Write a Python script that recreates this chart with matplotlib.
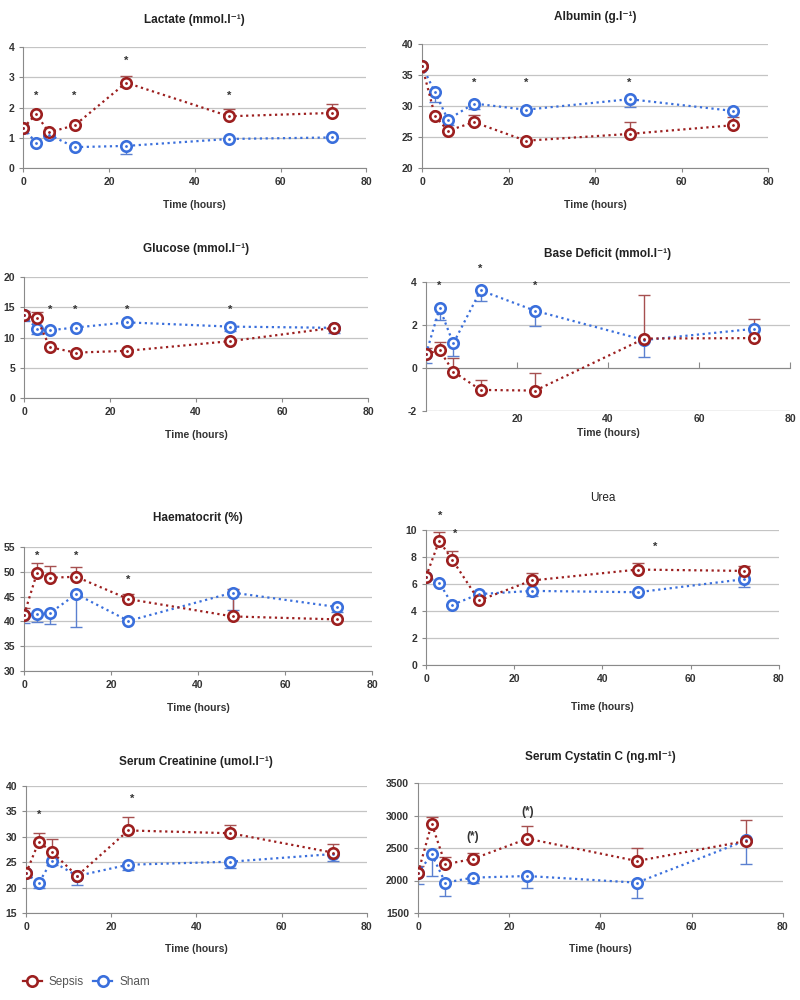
import matplotlib
matplotlib.use("Agg")
import matplotlib.pyplot as plt
import numpy as np

plt.rcParams["font.family"] = ["Liberation Sans", "DejaVu Sans"]
plt.rcParams["axes.unicode_minus"] = False

hours = [0, 3, 6, 12, 24, 48, 72]

# Lactate
lac_sep = [1.32, 1.78, 1.18, 1.41, 2.82, 1.71, 1.82]
lac_sep_up = [0, 0, 0, 0, 3.04, 1.95, 2.12]
lac_sham = [1.32, 0.84, 1.10, 0.69, 0.73, 0.96, 1.01]
lac_sham_dn = [1.17, 0, 0, 0, 0.47, 0, 0]

# Albumin
alb_sep = [36.5, 28.4, 26.0, 27.4, 24.4, 25.5, 26.9]
alb_sep_up = [0, 0, 0, 28.6, 0, 27.4, 28.2]
alb_sham = [36.5, 32.2, 27.8, 30.4, 29.4, 31.1, 29.2]
alb_sham_dn = [0, 30.6, 27.0, 29.5, 0, 29.8, 0]

# Glucose
glu_sep = [13.7, 13.15, 8.4, 7.5, 7.8, 9.4, 11.6]
glu_sep_up = [14.4, 14.2, 0, 0, 0, 0, 0]
glu_sham = [13.7, 11.45, 11.2, 11.65, 12.5, 11.8, 11.6]
glu_sham_dn = [12.8, 10.5, 0, 0, 0, 11.1, 10.8]

# Base deficit
bd_sep = [0.65, 0.83, -0.17, -1.02, -1.05, 1.37, 1.39]
bd_sep_up = [0.94, 1.19, 0.45, -0.56, -0.25, 3.38, 2.27]
bd_sham = [0.65, 2.79, 1.14, 3.61, 2.66, 1.30, 1.82]
bd_sham_dn = [0.24, 2.22, 0.55, 3.10, 1.96, 0.52, 0]

# Haematocrit
hct_sep = [41.3, 49.8, 48.8, 49.0, 44.5, 41.0, 40.4]
hct_sep_up = [42.7, 51.8, 51.2, 51.0, 45.5, 46.6, 43.2]
hct_sham = [41.3, 41.5, 41.7, 45.5, 40.1, 45.8, 42.9]
hct_sham_dn = [39.7, 39.9, 39.5, 38.9, 0, 42.3, 41.8]

# Urea
urea_sep = [6.55, 9.2, 7.78, 4.78, 6.26, 7.07, 6.97]
urea_sep_up = [0, 9.83, 8.45, 0, 6.8, 7.54, 7.34]
urea_sham = [6.55, 6.11, 4.46, 5.25, 5.49, 5.39, 6.35]
urea_sham_dn = [0, 0, 0, 0, 5.12, 0, 5.76]

# Serum creatinine
cre_sep = [22.8, 29.0, 27.1, 22.3, 31.25, 30.7, 26.9]
cre_sep_up = [0, 30.7, 29.5, 0, 33.8, 32.3, 28.5]
cre_sham = [22.8, 20.9, 25.25, 22.3, 24.5, 25.1, 26.6]
cre_sham_dn = [22.0, 19.85, 24.4, 20.55, 23.55, 23.8, 25.3]

# Serum cystatin C
cys_sep = [2115, 2874, 2249, 2331, 2644, 2300, 2608]
cys_sep_up = [2223, 2982, 2362, 2423, 2833, 2500, 2936]
cys_sham = [2115, 2403, 1967, 2044, 2069, 1967, 2618]
cys_sham_dn = [1941, 2069, 1762, 1956, 1890, 1736, 2249]

SEP = "#9c1f1f"
SEP_ERR = "#a65050"
SHAM = "#3a6fdc"
SHAM_ERR = "#5b80d0"
GRID = "#c4c4c4"


def draw(ax, sep, sep_up, sham, sham_dn):
    x = np.array(hours)
    for mean, lim, col, ecol, up in [(sham, sham_dn, SHAM, SHAM_ERR, False),
                                     (sep, sep_up, SEP, SEP_ERR, True)]:
        mean = np.array(mean, float)
        lim = np.array(lim, float)
        m = lim != 0
        err = np.abs(lim[m] - mean[m])
        zeros = np.zeros_like(err)
        yerr = [zeros, err] if up else [err, zeros]
        ax.errorbar(x[m], mean[m], yerr=yerr, fmt="none", ecolor=ecol,
                    elinewidth=1, capsize=4, capthick=1, zorder=2)
        ax.plot(x, mean, color=col, linestyle=(0, (1, 1.6)), lw=1.6,
                marker="o", ms=7.5, mfc="white", mec=col, mew=1.9, zorder=3)
        ax.plot(x, mean, linestyle="none", marker=".", ms=2, color=col, zorder=4)


def style(ax, ylim, yticks, title, tgap, xgap, bold=True):
    ax.set_xlim(0, 80)
    ax.set_ylim(*ylim)
    ax.set_yticks(yticks)
    ax.set_xticks([0, 20, 40, 60, 80])
    ax.yaxis.grid(True, color=GRID, lw=0.9)
    ax.set_axisbelow(True)
    for s in ["top", "right"]:
        ax.spines[s].set_visible(False)
    for s in ["left", "bottom"]:
        ax.spines[s].set_color("#8a8a8a")
    ax.tick_params(length=3, color="#8a8a8a", labelsize=7.5, labelcolor="#333333")
    for lab in ax.get_xticklabels() + ax.get_yticklabels():
        lab.set_fontweight("bold")
    h = ax.get_position().height * 1000
    ax.text(0.5, 1 + tgap / h, title, transform=ax.transAxes, ha="center",
            va="center", fontsize=8.5, fontweight="bold" if bold else "normal",
            color="#222222")
    ax.text(0.5, -xgap / h, "Time (hours)", transform=ax.transAxes, ha="center",
            va="center", fontsize=7.5, fontweight="bold", color="#333333")


def stars(ax, xs, ys, txt="*", size=8):
    for xx, yy in zip(xs, ys):
        ax.text(xx, yy, txt, ha="center", va="center", fontsize=size,
                fontweight="bold", color="#333333")


fig = plt.figure(figsize=(8, 10), dpi=100)

ax1 = fig.add_axes([0.029, 0.832, 0.429, 0.121])
draw(ax1, lac_sep, lac_sep_up, lac_sham, lac_sham_dn)
style(ax1, (0, 4), [0, 1, 2, 3, 4], "Lactate (mmol.l\u207b\u00b9)", 27, 37)
stars(ax1, [3, 12, 24, 48], [2.39, 2.39, 3.55, 2.39])

ax2 = fig.add_axes([0.5275, 0.832, 0.4325, 0.124])
draw(ax2, alb_sep, alb_sep_up, alb_sham, alb_sham_dn)
style(ax2, (20, 40), [20, 25, 30, 35, 40], "Albumin (g.l\u207b\u00b9)", 27, 37)
stars(ax2, [12, 24, 48], [33.8, 33.8, 33.8])

ax3 = fig.add_axes([0.03, 0.602, 0.43, 0.121])
draw(ax3, glu_sep, glu_sep_up, glu_sham, glu_sham_dn)
style(ax3, (0, 20), [0, 5, 10, 15, 20], "Glucose (mmol.l\u207b\u00b9)", 28, 37)
stars(ax3, [6, 12, 24, 48], [14.5, 14.5, 14.5, 14.5])

ax4 = fig.add_axes([0.5325, 0.589, 0.455, 0.129])
draw(ax4, bd_sep, bd_sep_up, bd_sham, bd_sham_dn)
style(ax4, (-2, 4), [-2, 0, 2, 4], "Base Deficit (mmol.l\u207b\u00b9)", 28, 22)
ax4.spines["bottom"].set_position(("data", 0))
ax4.axhline(-2, color=GRID, lw=0.9, zorder=0.5)
ax4.set_xticklabels(["", "20", "40", "60", "80"], fontweight="bold")
ax4.tick_params(axis="x", pad=33, direction="in", length=4)
stars(ax4, [3, 12, 24], [3.8, 4.59, 3.8])

ax5 = fig.add_axes([0.03, 0.329, 0.435, 0.124])
draw(ax5, hct_sep, hct_sep_up, hct_sham, hct_sham_dn)
style(ax5, (30, 55), [30, 35, 40, 45, 50, 55], "Haematocrit (%)", 29, 37)
stars(ax5, [3, 12, 24], [53.3, 53.3, 48.4])

ax6 = fig.add_axes([0.5325, 0.335, 0.441, 0.135])
draw(ax6, urea_sep, urea_sep_up, urea_sham, urea_sham_dn)
style(ax6, (0, 10), [0, 2, 4, 6, 8, 10], "Urea", 32, 42, bold=False)
stars(ax6, [3.3, 6.6, 52], [11.06, 9.7, 8.72])

ax7 = fig.add_axes([0.0325, 0.087, 0.426, 0.127])
draw(ax7, cre_sep, cre_sep_up, cre_sham, cre_sham_dn)
style(ax7, (15, 40), [15, 20, 25, 30, 35, 40], "Serum Creatinine (umol.l\u207b\u00b9)", 24, 36)
stars(ax7, [3, 25], [34.3, 37.4])

ax8 = fig.add_axes([0.5225, 0.087, 0.456, 0.130])
draw(ax8, cys_sep, cys_sep_up, cys_sham, cys_sham_dn)
style(ax8, (1500, 3500), [1500, 2000, 2500, 3000, 3500], "Serum Cystatin C (ng.ml\u207b\u00b9)", 26, 36)
stars(ax8, [12, 24], [2669, 3054], txt="(*)", size=8.5)

h_sep, = ax8.plot([], [], color=SEP, lw=1.6, marker="o", ms=7.5, mfc="white", mec=SEP, mew=1.9)
h_sham, = ax8.plot([], [], color=SHAM, lw=1.6, marker="o", ms=7.5, mfc="white", mec=SHAM, mew=1.9)
leg = fig.legend([h_sep, h_sham], ["Sepsis", "Sham"], loc="center left",
                 bbox_to_anchor=(0.015, 0.018), ncol=2, frameon=False,
                 fontsize=8.5, handlelength=1.6, columnspacing=0.8, handletextpad=0.6)
for t in leg.get_texts():
    t.set_color("#555555")

fig.savefig("out.png", dpi=100)
